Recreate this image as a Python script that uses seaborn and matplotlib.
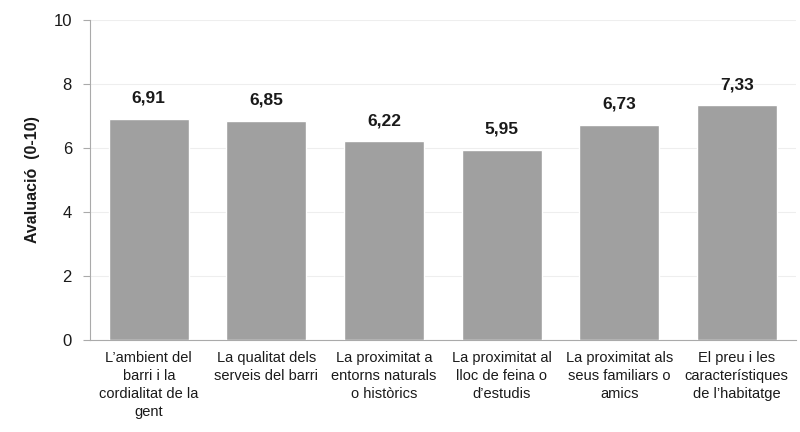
import matplotlib
matplotlib.use('Agg')
import matplotlib.pyplot as plt
import seaborn as sns
import pandas as pd

# Data
categories = [
    "L\u2019ambient del\nbarri i la\ncordialitat de la\ngent",
    "La qualitat dels\nserveis del barri",
    "La proximitat a\nentorns naturals\no hist\u00f2rics",
    "La proximitat al\nlloc de feina o\nd\u2019estudis",
    "La proximitat als\nseus familiars o\namics",
    "El preu i les\ncaracter\u00edstiques\nde l\u2019habitatge",
]
values = [6.91, 6.85, 6.22, 5.95, 6.73, 7.33]
value_labels = ["6,91", "6,85", "6,22", "5,95", "6,73", "7,33"]
y_ticks = [0, 2, 4, 6, 8, 10]

df = pd.DataFrame({'cat': categories, 'val': values})

sns.set_style('white')
plt.rcParams['font.family'] = ['Liberation Sans', 'DejaVu Sans']

fig = plt.figure(figsize=(8, 4.32), dpi=100)
ax = fig.add_axes([0.1125, 0.213, 0.882, 0.741])

sns.barplot(data=df, x='cat', y='val', color='#a0a0a0', saturation=1,
            width=0.68, ax=ax, zorder=3)

for i, (v, lab) in enumerate(zip(values, value_labels)):
    ax.text(i, v + 0.4, lab, ha='center', va='bottom', fontsize=12.5,
            fontweight='bold', color='#1a1a1a')

ax.set_ylim(0, 10)
ax.set_xlim(-0.5, len(categories) - 0.5)
ax.set_yticks(y_ticks)
ax.set_yticklabels([str(t) for t in y_ticks], fontsize=12, color='#1a1a1a')
ax.yaxis.grid(True, color='#eeeeee', linewidth=0.8, zorder=0)
ax.set_xlabel('')
ax.set_ylabel('Avaluaci\u00f3  (0-10)', fontsize=11.5, fontweight='bold',
              labelpad=10, color='#1a1a1a')
ax.tick_params(axis='x', labelsize=10.5, length=0, pad=8, labelcolor='#1a1a1a')
ax.tick_params(axis='y', length=5, color='#aaaaaa', left=True, pad=8)
for t in ax.get_xticklabels():
    t.set_linespacing(1.35)

for s in ['top', 'right']:
    ax.spines[s].set_visible(False)
ax.spines['left'].set_color('#aaaaaa')
ax.spines['bottom'].set_color('#aaaaaa')

fig.savefig('out.png', dpi=100)
